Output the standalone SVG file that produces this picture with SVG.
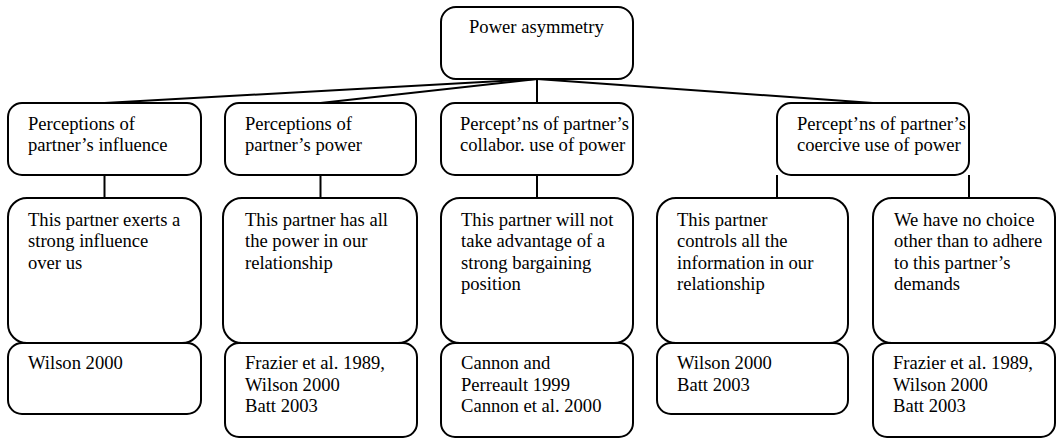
<svg xmlns="http://www.w3.org/2000/svg" width="1057" height="439" viewBox="0 0 1057 439">
  <style>
    .box { fill: #ffffff; stroke: #000000; stroke-width: 2; }
    .wire { stroke: #000000; stroke-width: 2; fill: none; }
    text { font-family: "Liberation Serif", "Times New Roman", serif; font-size: 18.6px; fill: #000000; }
  </style>

  <!-- connectors -->
  <g id="connectors">
    <line class="wire" x1="537" y1="79" x2="104.5" y2="103"/>
    <line class="wire" x1="537" y1="79" x2="320.5" y2="103"/>
    <line class="wire" x1="537" y1="79" x2="537" y2="103"/>
    <line class="wire" x1="537" y1="79" x2="873" y2="103"/>
    <line class="wire" x1="104.5" y1="175" x2="104.5" y2="198"/>
    <line class="wire" x1="320.5" y1="175" x2="320.5" y2="198"/>
    <line class="wire" x1="537" y1="175" x2="537" y2="198"/>
    <line class="wire" x1="777" y1="175" x2="777" y2="198"/>
    <line class="wire" x1="969" y1="175" x2="969" y2="198"/>
  </g>

  <!-- root -->
  <g id="power-asymmetry">
    <rect class="box" x="441" y="7" width="192" height="72" rx="15"/>
    <text x="469" y="33">Power asymmetry</text>
  </g>

  <!-- dimensions -->
  <g id="influence">
    <rect class="box" x="8" y="103" width="193" height="72" rx="14"/>
    <text x="28" y="130">Perceptions of</text>
    <text x="28" y="151">partner’s influence</text>
  </g>
  <g id="power">
    <rect class="box" x="225" y="103" width="191" height="72" rx="14"/>
    <text x="245" y="130">Perceptions of</text>
    <text x="245" y="151">partner’s power</text>
  </g>
  <g id="collaborative-use">
    <rect class="box" x="441" y="103" width="192" height="72" rx="14"/>
    <text x="460" y="130">Percept’ns of partner’s</text>
    <text x="460" y="151">collabor. use of power</text>
  </g>
  <g id="coercive-use">
    <rect class="box" x="777" y="103" width="192" height="72" rx="14"/>
    <text x="797" y="130">Percept’ns of partner’s</text>
    <text x="797" y="151">coercive use of power</text>
  </g>

  <!-- items -->
  <g id="item-influence">
    <rect class="box" x="8" y="198" width="193" height="145" rx="19"/>
    <text x="28" y="226">This partner exerts a</text>
    <text x="28" y="247.3">strong influence</text>
    <text x="28" y="268.6">over us</text>
  </g>
  <g id="item-power">
    <rect class="box" x="223" y="198" width="194" height="145" rx="19"/>
    <text x="245" y="226">This partner has all</text>
    <text x="245" y="247.3">the power in our</text>
    <text x="245" y="268.6">relationship</text>
  </g>
  <g id="item-collaborative">
    <rect class="box" x="441" y="198" width="192" height="145" rx="19"/>
    <text x="461" y="226">This partner will not</text>
    <text x="461" y="247.3">take advantage of a</text>
    <text x="461" y="268.6">strong bargaining</text>
    <text x="461" y="289.9">position</text>
  </g>
  <g id="item-information">
    <rect class="box" x="657" y="198" width="191" height="145" rx="19"/>
    <text x="677" y="226">This partner</text>
    <text x="677" y="247.3">controls all the</text>
    <text x="677" y="268.6">information in our</text>
    <text x="677" y="289.9">relationship</text>
  </g>
  <g id="item-demands">
    <rect class="box" x="873" y="198" width="182" height="145" rx="19"/>
    <text x="894" y="226">We have no choice</text>
    <text x="894" y="247.3">other than to adhere</text>
    <text x="894" y="268.6">to this partner’s</text>
    <text x="894" y="289.9">demands</text>
  </g>

  <!-- sources -->
  <g id="source-influence">
    <rect class="box" x="8" y="343" width="193" height="71" rx="14"/>
    <text x="28" y="369">Wilson 2000</text>
  </g>
  <g id="source-power">
    <rect class="box" x="225" y="343" width="192" height="94" rx="14"/>
    <text x="245" y="369">Frazier et al. 1989,</text>
    <text x="245" y="390.5">Wilson 2000</text>
    <text x="245" y="412">Batt 2003</text>
  </g>
  <g id="source-collaborative">
    <rect class="box" x="441" y="343" width="192" height="94" rx="14"/>
    <text x="461" y="369">Cannon and</text>
    <text x="461" y="390.5">Perreault 1999</text>
    <text x="461" y="412">Cannon et al. 2000</text>
  </g>
  <g id="source-information">
    <rect class="box" x="657" y="343" width="191" height="71" rx="14"/>
    <text x="677" y="369">Wilson 2000</text>
    <text x="677" y="390.5">Batt 2003</text>
  </g>
  <g id="source-demands">
    <rect class="box" x="873" y="343" width="182" height="94" rx="14"/>
    <text x="893" y="369">Frazier et al. 1989,</text>
    <text x="893" y="390.5">Wilson 2000</text>
    <text x="893" y="412">Batt 2003</text>
  </g>
</svg>
